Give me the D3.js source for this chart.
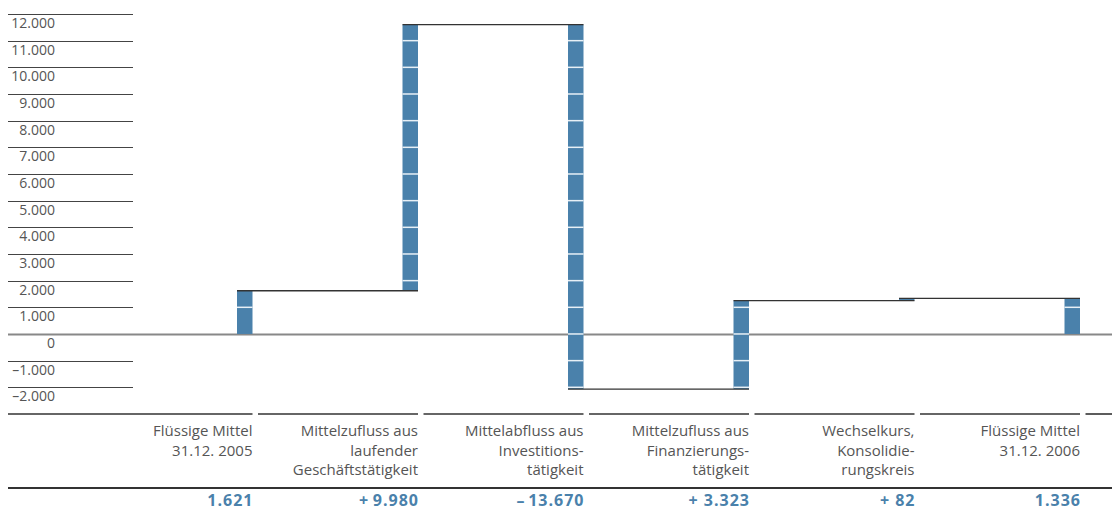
<!DOCTYPE html>
<html>
<head>
<meta charset="utf-8">
<script src="https://cdn.jsdelivr.net/npm/d3@7"></script>
<style>
  body { margin: 0; background: #fff; }
  svg { display: block; font-family: "Open Sans", Lato, sans-serif; }
</style>
</head>
<body>
<div id="chart"></div>
<script>
// Kapitalflussrechnung – Wasserfall (Mio €)
var categories = [
  ["Flüssige Mittel", "31.12. 2005"],
  ["Mittelzufluss aus", "laufender", "Geschäftstätigkeit"],
  ["Mittelabfluss aus", "Investitions-", "tätigkeit"],
  ["Mittelzufluss aus", "Finanzierungs-", "tätigkeit"],
  ["Wechselkurs,", "Konsolidie-", "rungskreis"],
  ["Flüssige Mittel", "31.12. 2006"]
]
var values = [1621, 9980, -13670, 3323, 82, 1336]
var kinds = ["total", "delta", "delta", "delta", "delta", "total"]
var valueLabels = ["1.621", "+\u20099.980", "\u2013\u200a13.670", "+ 3.323", "+ 82", "1.336"]
var yTicks = [-2000, -1000, 0, 1000, 2000, 3000, 4000, 5000, 6000, 7000, 8000, 9000, 10000, 11000, 12000]

var width = 1112, height = 510
var blue = "#4a81ab"

var svg = d3.select("#chart").append("svg")
  .attr("width", width)
  .attr("height", height)

var y = d3.scaleLinear().domain([-2000, 12000]).range([387.3, 14])
var x = d3.scaleBand().domain(d3.range(categories.length)).range([87, 1080])
var barW = 15.5

function fmt(v) {
  var s = d3.format(",")(Math.abs(v)).replace(/,/g, ".")
  return v < 0 ? "\u2013" + s : s
}

// compute bar extents
var bars = []
var run = 0
values.forEach(function(v, i) {
  var lo, hi
  if (kinds[i] == "total") { lo = 0; hi = v; run = v }
  else { var prev = run; run = run + v; lo = Math.min(prev, run); hi = Math.max(prev, run) }
  bars.push({i: i, lo: lo, hi: hi, end: run})
})

// y grid + labels
var grid = svg.append("g").attr("class", "grid")
grid.selectAll("line")
  .data(yTicks)
  .enter().append("line")
  .attr("x1", 8)
  .attr("x2", function(d) { return d == 0 ? width : 133 })
  .attr("y1", function(d) { return Math.round(y(d)) + 0.5 })
  .attr("y2", function(d) { return Math.round(y(d)) + 0.5 })
  .attr("stroke", function(d) { return d == 0 ? "#888" : "#444" })
  .attr("stroke-width", function(d) { return d == 0 ? 2 : 1 })

grid.selectAll("text")
  .data(yTicks)
  .enter().append("text")
  .attr("x", 55)
  .attr("y", function(d) { return y(d) + 14 })
  .attr("text-anchor", "end")
  .attr("font-size", "14px")
  .attr("fill", "#555")
  .text(fmt)

// bars
var barG = svg.append("g").attr("class", "bars")
barG.selectAll("rect")
  .data(bars)
  .enter().append("rect")
  .attr("x", function(d) { return x(d.i) + x.bandwidth() - barW })
  .attr("width", barW)
  .attr("y", function(d) { return y(d.hi) })
  .attr("height", function(d) { return Math.max(1.5, y(d.lo) - y(d.hi)) })
  .attr("fill", blue)

// white separators at every 1000 inside a bar
bars.forEach(function(b) {
  var steps = yTicks.filter(function(t) { return t > b.lo && t < b.hi })
  barG.selectAll(null)
    .data(steps)
    .enter().append("line")
    .attr("x1", x(b.i) + x.bandwidth() - barW)
    .attr("x2", x(b.i) + x.bandwidth())
    .attr("y1", function(t) { return y(t) })
    .attr("y2", function(t) { return y(t) })
    .attr("stroke", "#e8f0f6")
    .attr("stroke-width", 1.5)
})

// connectors
var conn = svg.append("g").attr("class", "connectors")
conn.selectAll("line")
  .data(bars.slice(0, -1))
  .enter().append("line")
  .attr("x1", function(d) { return x(d.i) + x.bandwidth() - barW })
  .attr("x2", function(d) { return x(d.i + 1) + x.bandwidth() })
  .attr("y1", function(d) { return y(d.end) })
  .attr("y2", function(d) { return y(d.end) })
  .attr("stroke", "#333")
  .attr("stroke-width", 1.3)

// table lines
var tbl = svg.append("g").attr("class", "table")
tbl.selectAll("line.seg")
  .data(d3.range(categories.length + 1))
  .enter().append("line")
  .attr("class", "seg")
  .attr("x1", function(i) { return i == 0 ? 8 : x(i - 1) + x.bandwidth() + 5.5 })
  .attr("x2", function(i) { return i == categories.length ? width : x(i) + x.bandwidth() })
  .attr("y1", 414).attr("y2", 414)
  .attr("stroke", "#333")
  .attr("stroke-width", 1.6)

tbl.append("line")
  .attr("x1", 8).attr("x2", width)
  .attr("y1", 488).attr("y2", 488)
  .attr("stroke", "#333")
  .attr("stroke-width", 2)

// category labels
var cat = svg.append("g").attr("class", "cats")
  .selectAll("text")
  .data(categories)
  .enter().append("text")
  .attr("text-anchor", "end")
  .attr("font-size", "15px")
  .attr("fill", "#555")
cat.selectAll("tspan")
  .data(function(d, i) { return d.map(function(t) { return {t: t, i: i} }) })
  .enter().append("tspan")
  .attr("x", function(d) { return x(d.i) + x.bandwidth() })
  .attr("y", function(d, j) { return 436 + j * 19.5 })
  .text(function(d) { return d.t })

// value labels
svg.append("g").attr("class", "vals")
  .selectAll("text")
  .data(valueLabels)
  .enter().append("text")
  .attr("x", function(d, i) { return x(i) + x.bandwidth() + 1 })
  .attr("y", 506)
  .attr("text-anchor", "end")
  .attr("font-size", "16px")
  .attr("font-weight", 700)
  .attr("letter-spacing", "1px")
  .attr("fill", blue)
  .text(function(d) { return d })
</script>
</body>
</html>
